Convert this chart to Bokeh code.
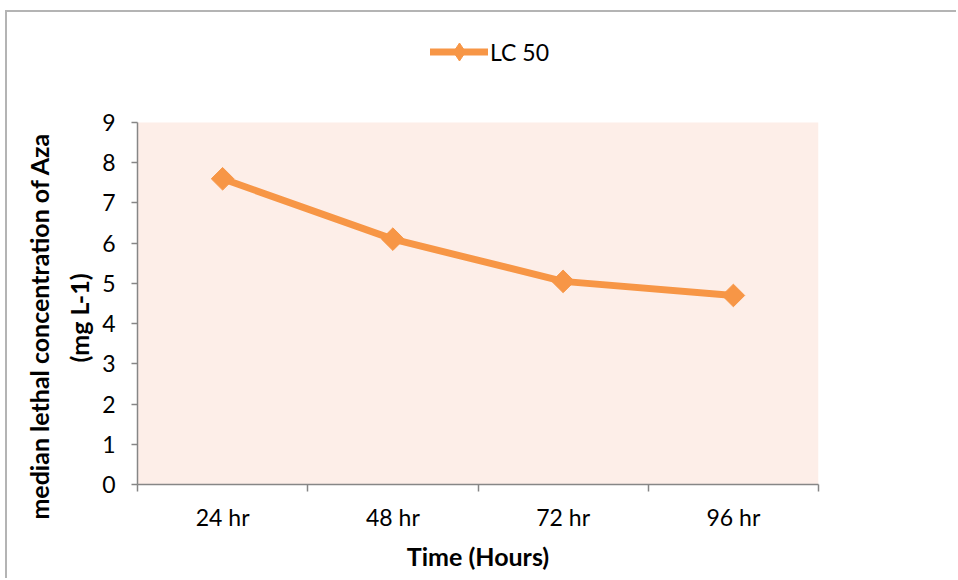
import numpy as np
from bokeh.plotting import figure
from bokeh.models import (FixedTicker, Legend, LegendItem, Title, Range1d,
                          BoxAnnotation)
from bokeh.embed import file_html
from bokeh.resources import INLINE

# exposure periods and the LC50 estimated at each one
hours = ["24 hr", "48 hr", "72 hr", "96 hr"]
lc50 = [7.6, 6.1, 5.05, 4.7]
y_ticks = [0, 1, 2, 3, 4, 5, 6, 7, 8, 9]
y_max = 9

ORANGE = "#f79646"
AXIS_GRAY = "#868686"
PLOT_BG = "#fdeee8"
FONT = "Lato"

# each category occupies one unit; points sit in the middle of their slot
xs = np.arange(len(hours)) + 0.5

# the frame reaches up into the header so the legend can live inside it;
# the value axis itself still stops at y_max (frame: 464 px tall, 362 px for 0..9)
y_top = y_max * 464 / 362

p = figure(width=951, height=568, output_backend="svg", toolbar_location=None,
           x_range=Range1d(0, len(hours)), y_range=Range1d(0, y_top),
           min_border_left=130, min_border_right=140,
           min_border_top=8, min_border_bottom=96)
# chart-area border along the top and left edges
p.styles = {"margin-left": "5px", "margin-top": "10px",
            "border-top": "2px solid #b4b4b4", "border-left": "2px solid #b4b4b4"}
p.background_fill_color = "white"
p.border_fill_color = "white"
p.outline_line_color = None
p.grid.visible = False

# shaded plot area
p.add_layout(BoxAnnotation(left=0, right=len(hours), bottom=0, top=y_max,
                           fill_color=PLOT_BG, fill_alpha=1, line_color=None,
                           level="underlay"))

# x axis: labels centred in each slot, tick marks on the slot boundaries
p.xaxis.ticker = FixedTicker(ticks=list(xs), minor_ticks=list(range(len(hours) + 1)))
p.xaxis.major_label_overrides = {float(x): h for x, h in zip(xs, hours)}
p.xaxis.major_tick_line_color = None
p.xaxis.major_tick_out = 0
p.xaxis.minor_tick_line_color = AXIS_GRAY
p.xaxis.minor_tick_line_width = 1.5
p.xaxis.minor_tick_out = 7
p.xaxis.minor_tick_in = 0
p.xaxis.major_label_standoff = 11
p.xaxis.axis_label = "Time (Hours)"
p.xaxis.axis_label_text_font_style = "bold"
p.xaxis.axis_label_standoff = 7

p.yaxis.ticker = FixedTicker(ticks=y_ticks)
p.yaxis.bounds = (0, y_max)
p.yaxis.major_tick_out = 6
p.yaxis.major_tick_in = 0
p.yaxis.minor_tick_line_color = None
p.yaxis.major_tick_line_color = AXIS_GRAY
p.yaxis.major_tick_line_width = 1.5
p.yaxis.major_label_standoff = 16

for ax in (p.xaxis, p.yaxis):
    ax.axis_line_color = AXIS_GRAY
    ax.axis_line_width = 1.5
    ax.major_label_text_font = FONT
    ax.major_label_text_font_size = "23px"
    ax.major_label_text_color = "black"
    ax.axis_label_text_font = FONT
    ax.axis_label_text_font_size = "25px"
    ax.axis_label_text_color = "black"

# two-line y-axis title, inner line first; offsets are measured down from the frame top
for txt, gap, shift in [("(mg L-1)", 8, 253),
                        ("median lethal concentration of Aza", 7, 112)]:
    p.add_layout(Title(text=txt, align="right", vertical_align="top",
                       offset=shift, standoff=gap,
                       text_font=FONT, text_font_size="25px",
                       text_font_style="bold", text_color="black"), "left")

line = p.line(xs, lc50, line_color=ORANGE, line_width=7, line_cap="round",
              line_join="round")
# diamond used for the legend swatch (sits underneath the plotted markers)
key = p.scatter(xs, lc50, marker="diamond", size=18,
                fill_color=ORANGE, line_color=ORANGE)
pts = p.scatter(xs, lc50, marker="square", angle=np.pi / 4, size=16,
                fill_color=ORANGE, line_color=ORANGE)

legend = Legend(items=[LegendItem(label="LC 50", renderers=[line, key])],
                location=(293, 410), orientation="horizontal",
                glyph_width=58, glyph_height=45, label_standoff=2,
                padding=0, margin=0, spacing=0,
                border_line_color=None, background_fill_alpha=0,
                label_text_font=FONT, label_text_font_size="23px",
                label_text_color="black")
p.add_layout(legend, "center")

open("out.html", "w").write(file_html(p, INLINE))
